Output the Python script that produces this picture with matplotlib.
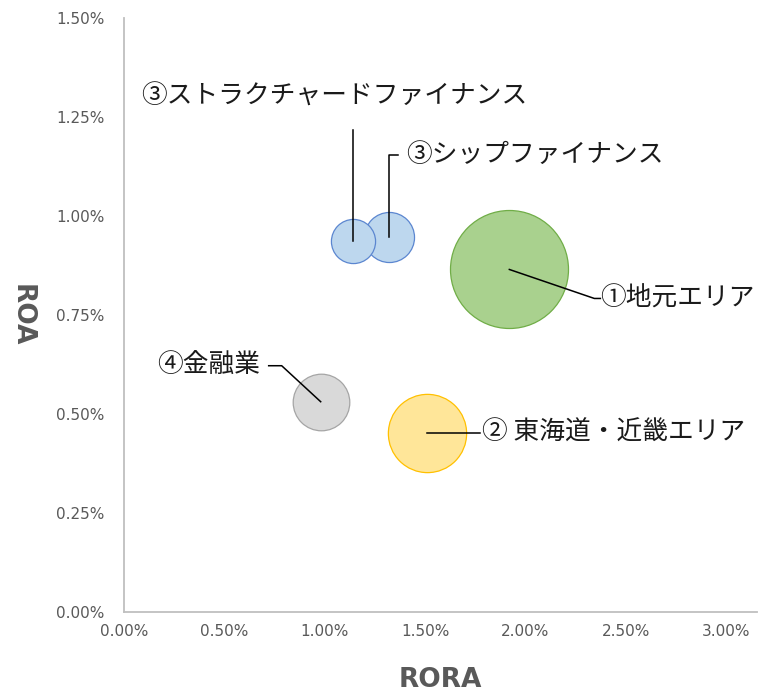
import matplotlib
matplotlib.use("Agg")
import matplotlib.pyplot as plt
import numpy as np
from matplotlib.transforms import IdentityTransform
from matplotlib.ticker import FuncFormatter

# ---- data (values in %) ----
labels = ["①地元エリア", "② 東海道・近畿エリア", "③シップファイナンス", "③ストラクチャードファイナンス", "④金融業"]
rora = [1.92, 1.51, 1.32, 1.14, 0.98]
roa = [0.865, 0.453, 0.948, 0.936, 0.531]
bubble_size = [100, 44, 18, 14, 23]
fill_colors = ["#A9D18E", "#FFE699", "#BDD7EE", "#BDD7EE", "#D9D9D9"]
edge_colors = ["#70AD47", "#FFC000", "#5B86D0", "#5B86D0", "#A5A5A5"]
x_ticks = [0, 0.5, 1.0, 1.5, 2.0, 2.5, 3.0]
y_ticks = [0, 0.25, 0.5, 0.75, 1.0, 1.25, 1.5]

W, H = 759, 694
fig = plt.figure(figsize=(W / 100, H / 100), dpi=100)
ax = fig.add_axes([124 / W, (H - 612) / H, 633 / W, 594 / H])
ax.set_xlim(0, 633 / 200.7)
ax.set_ylim(0, 1.5)

max_d_px = 118
for i in range(len(labels)):
    d = max_d_px * np.sqrt(bubble_size[i] / max(bubble_size))
    s = (d * 0.72) ** 2
    ax.scatter([rora[i]], [roa[i]], s=s, c=fill_colors[i], edgecolors=edge_colors[i],
               linewidths=0.9, zorder=3 + i)

ax.xaxis.set_major_locator(plt.FixedLocator(x_ticks))
ax.yaxis.set_major_locator(plt.FixedLocator(y_ticks))
ax.xaxis.set_major_formatter(FuncFormatter(lambda v, p: f"{v:.2f}%"))
ax.yaxis.set_major_formatter(FuncFormatter(lambda v, p: f"{v:.2f}%"))
ax.tick_params(length=0, labelsize=11, labelcolor="#595959")
ax.tick_params(axis="x", pad=9)
ax.tick_params(axis="y", pad=14)
for sp in ["top", "right"]:
    ax.spines[sp].set_visible(False)
for sp in ["left", "bottom"]:
    ax.spines[sp].set_color("#BFBFBF")
    ax.spines[sp].set_linewidth(1.3)

ax.set_xlabel("RORA", fontsize=19, fontweight="bold", color="#595959", va="center")
ax.xaxis.set_label_coords(0.5, (612 - 680) / 594)
ax.set_ylabel("ROA", fontsize=19, fontweight="bold", color="#595959", rotation=270, va="center", ha="center")
ax.yaxis.set_label_coords((22 - 124) / 633, 0.5)

# label placements: (text offset px, ha, leader path offsets px) ; y offsets upward positive
place = [
    ((91, -29), "left", [(0, 0), (85, -29), (91, -29)]),
    ((55, 0), "left", [(0, 0), (53, 0)]),
    ((17, 82), "left", [(0, 0), (0, 82), (9, 82)]),
    ((-212, 145), "left", [(0, 0), (0, 111)]),
    ((-61, 36), "right", [(0, 0), (-39, 36), (-52, 36)]),
]
fig.canvas.draw()
fam = ["Noto Sans CJK JP", "DejaVu Sans"]
for i, (toff, ha, path) in enumerate(place):
    cx, cy = ax.transData.transform((rora[i], roa[i]))
    pts = np.array([(cx + dx, cy + dy) for dx, dy in path])
    ax.add_line(plt.Line2D(pts[:, 0], pts[:, 1], transform=IdentityTransform(),
                           color="black", linewidth=1.1, zorder=20))
    ax.text(cx + toff[0], cy + toff[1], labels[i], transform=IdentityTransform(),
            ha=ha, va="center", fontsize=18.5, family=fam, color="#1a1a1a", zorder=21)

fig.savefig("out.png", dpi=100)
